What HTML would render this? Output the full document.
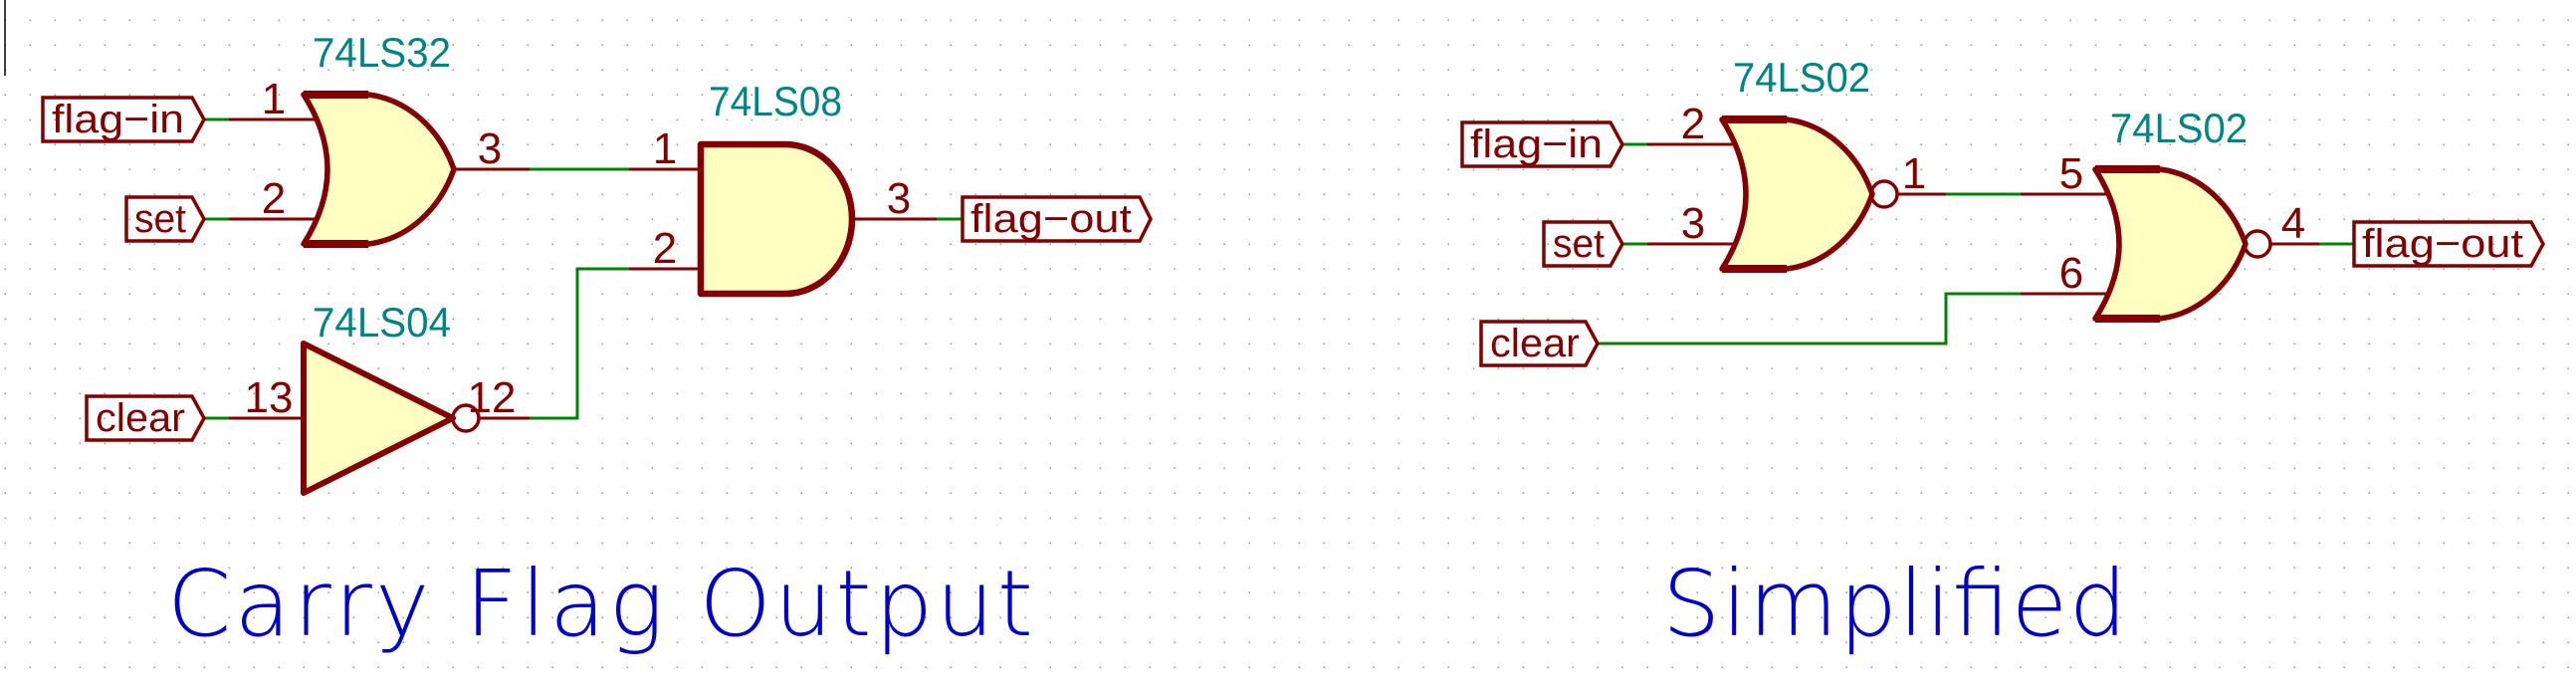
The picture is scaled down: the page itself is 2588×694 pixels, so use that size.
<!DOCTYPE html>
<html><head><meta charset="utf-8"><style>
html,body{margin:0;padding:0;background:#fff;}
svg{display:block;}
.lbl{font-family:"Liberation Sans",sans-serif;font-size:40px;fill:#840000;}
.pn{font-family:"Liberation Sans",sans-serif;font-size:44px;fill:#840000;}
.ref{font-family:"Liberation Sans",sans-serif;font-size:42px;fill:#008484;}
.title{font-family:"DejaVu Sans","Liberation Sans",sans-serif;font-weight:200;font-size:92px;fill:#0000c8;}
</style></head><body>
<svg width="2588" height="694" viewBox="0 0 2588 694" xmlns="http://www.w3.org/2000/svg">
<defs>
<pattern id="g" x="0" y="0" width="25" height="25" patternUnits="userSpaceOnUse">
<rect x="4.5" y="19.5" width="1.6" height="1.6" fill="#9a9a9a"/>
</pattern>
</defs>
<rect width="2588" height="694" fill="#fff"/>
<rect width="2588" height="694" fill="url(#g)"/>
<line x1="5" y1="0" x2="5" y2="76" stroke="#000" stroke-width="1.5"/>

<g fill="none" stroke-linecap="butt">
<g stroke="#008400" stroke-width="3">
<line x1="205" y1="120" x2="230" y2="120"/>
<line x1="205" y1="220" x2="230" y2="220"/>
<line x1="205" y1="420" x2="230" y2="420"/>
<line x1="532" y1="170" x2="632" y2="170"/>
<polyline points="532,420 580,420 580,270 632,270"/>
<line x1="941" y1="220" x2="967" y2="220"/>
</g>
<g stroke="#840000" stroke-width="3">
<line x1="230" y1="120" x2="330" y2="120"/>
<line x1="230" y1="220" x2="330" y2="220"/>
<line x1="230" y1="420" x2="305" y2="420"/>
<line x1="456" y1="170" x2="532" y2="170"/>
<line x1="632" y1="170" x2="704" y2="170"/>
<line x1="632" y1="270" x2="704" y2="270"/>
<line x1="856" y1="220" x2="941" y2="220"/>
<line x1="481" y1="420" x2="532" y2="420"/>
</g>
<g stroke="#008400" stroke-width="3">
<line x1="1630" y1="145" x2="1655" y2="145"/>
<line x1="1630" y1="245" x2="1655" y2="245"/>
<line x1="1955" y1="195" x2="2030" y2="195"/>
<polyline points="1605,345 1955,345 1955,295 2030,295"/>
<line x1="2330" y1="245" x2="2365" y2="245"/>
</g>
<g stroke="#840000" stroke-width="3">
<line x1="1655" y1="145" x2="1755" y2="145"/>
<line x1="1655" y1="245" x2="1755" y2="245"/>
<line x1="1906" y1="195" x2="1955" y2="195"/>
<line x1="2030" y1="195" x2="2130" y2="195"/>
<line x1="2030" y1="295" x2="2130" y2="295"/>
<line x1="2281" y1="245" x2="2330" y2="245"/>
</g>
</g>

<g fill="#ffffc2" stroke="#840000" stroke-width="5.5" stroke-linejoin="round">
<path d="M305,95 L370,95 C410,100 442,130 456,170 C442,210 410,240 370,245 L305,245 Q353,170 305,95 Z"/>
<g stroke-width="8"><line x1="305" y1="95" x2="370" y2="95"/><line x1="305" y1="245" x2="370" y2="245"/></g>
<path d="M704,145 L789,145 A67,75 0 0 1 789,295 L704,295 Z" stroke-width="6.5"/>
<polygon points="305,345 455,420 305,495" stroke-width="6"/>
<circle cx="468" cy="420" r="13" fill="none" stroke-width="3.5"/>

<g transform="translate(1425,25)">
<path d="M305,95 L370,95 C410,100 442,130 456,170 C442,210 410,240 370,245 L305,245 Q353,170 305,95 Z"/>
<g stroke-width="8"><line x1="305" y1="95" x2="370" y2="95"/><line x1="305" y1="245" x2="370" y2="245"/></g>
<circle cx="468" cy="170" r="13" fill="none" stroke-width="3.5"/>
</g>
<g transform="translate(1800,75)">
<path d="M305,95 L370,95 C410,100 442,130 456,170 C442,210 410,240 370,245 L305,245 Q353,170 305,95 Z"/>
<g stroke-width="8"><line x1="305" y1="95" x2="370" y2="95"/><line x1="305" y1="245" x2="370" y2="245"/></g>
<circle cx="468" cy="170" r="13" fill="none" stroke-width="3.5"/>
</g>
</g>

<g fill="none" stroke="#840000" stroke-width="3.5" stroke-linejoin="miter">
<polygon points="43,98 193,98 205,120 193,142 43,142"/>
<polygon points="127,198 193,198 205,220 193,242 127,242"/>
<polygon points="87,398 193,398 205,420 193,442 87,442"/>
<polygon points="967,198 1145,198 1156,220 1145,242 967,242"/>
<polygon points="1469,123 1618,123 1630,145 1618,167 1469,167"/>
<polygon points="1551,223 1618,223 1630,245 1618,267 1551,267"/>
<polygon points="1488,323 1593,323 1605,345 1593,367 1488,367"/>
<polygon points="2365,223 2543,223 2555,245 2543,267 2365,267"/>
</g>
<g class="lbl">
<text x="52" y="133" textLength="133" lengthAdjust="spacingAndGlyphs">flag−in</text>
<text x="135" y="233" textLength="52" lengthAdjust="spacingAndGlyphs">set</text>
<text x="96" y="433" textLength="90" lengthAdjust="spacingAndGlyphs">clear</text>
<text x="975" y="233" textLength="162" lengthAdjust="spacingAndGlyphs">flag−out</text>
<text x="1477" y="158" textLength="133" lengthAdjust="spacingAndGlyphs">flag−in</text>
<text x="1560" y="258" textLength="52" lengthAdjust="spacingAndGlyphs">set</text>
<text x="1497" y="358" textLength="90" lengthAdjust="spacingAndGlyphs">clear</text>
<text x="2373" y="258" textLength="162" lengthAdjust="spacingAndGlyphs">flag−out</text>
</g>

<g class="pn" text-anchor="middle">
<text x="275" y="114">1</text>
<text x="275" y="214">2</text>
<text x="492" y="164">3</text>
<text x="668" y="164">1</text>
<text x="668" y="264">2</text>
<text x="903" y="214">3</text>
<text x="270" y="414">13</text>
<text x="494" y="414">12</text>
<text x="1701" y="139">2</text>
<text x="1701" y="239">3</text>
<text x="1923" y="189">1</text>
<text x="2081" y="189">5</text>
<text x="2081" y="289">6</text>
<text x="2304" y="239">4</text>
</g>

<g class="ref">
<text x="314" y="67" textLength="139" lengthAdjust="spacingAndGlyphs">74LS32</text>
<text x="712" y="116" textLength="134" lengthAdjust="spacingAndGlyphs">74LS08</text>
<text x="314" y="338" textLength="139" lengthAdjust="spacingAndGlyphs">74LS04</text>
<text x="1741" y="92" textLength="138" lengthAdjust="spacingAndGlyphs">74LS02</text>
<text x="2120" y="143" textLength="138" lengthAdjust="spacingAndGlyphs">74LS02</text>
</g>

<text class="title" x="168" y="638" textLength="870" lengthAdjust="spacing">Carry Flag Output</text>
<text class="title" x="1670" y="638" textLength="467" lengthAdjust="spacing">Simplified</text>
</svg>
</body></html>
